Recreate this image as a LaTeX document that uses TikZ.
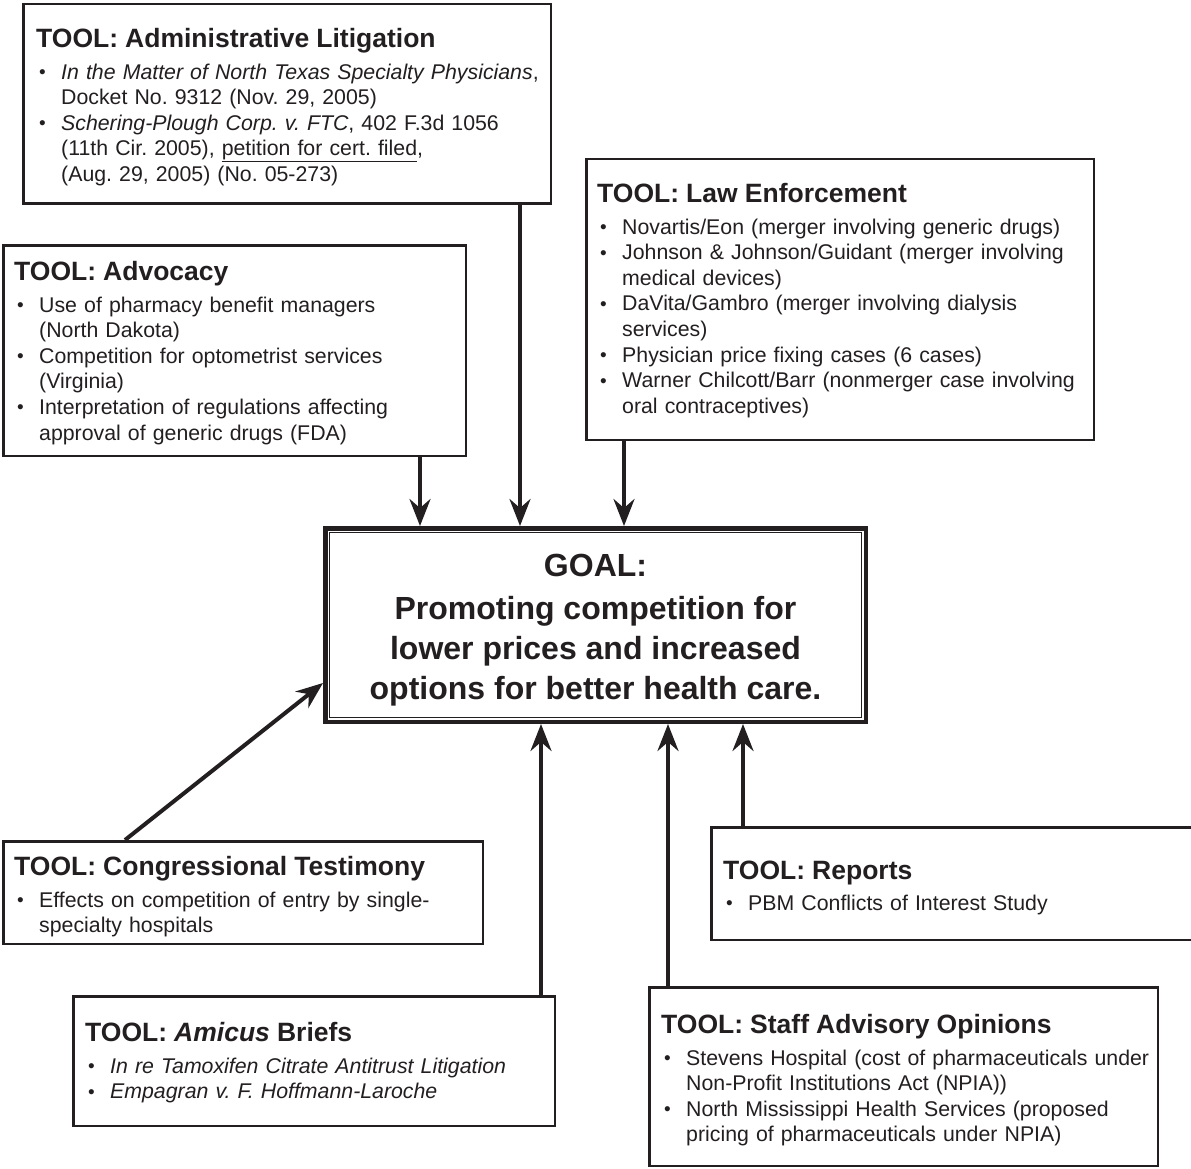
\documentclass[tikz,border=0pt]{standalone}
\usepackage{fontspec}
\setmainfont{Liberation Sans}
\usetikzlibrary{arrows.meta,positioning}
\definecolor{ink}{HTML}{231F20}
\setlength{\parskip}{0pt}
\frenchspacing
\newcommand{\tooltitle}[1]{{\noindent\fontsize{26.5}{30}\selectfont\bfseries #1\par}\vspace{5.5pt}}
\newcommand{\toolitem}[1]{\par\hangindent=25pt\hangafter=1\noindent\makebox[25pt][l]{\hspace{3pt}\raisebox{0.6pt}{\fontsize{19}{19}\selectfont\textbullet}}#1\par}
\begin{document}
\begin{tikzpicture}[x=1pt,y=-1pt,
  toolbox/.style={draw=ink,line width=2.5pt,fill=white,inner sep=0pt},
  tooltext/.style={anchor=north west,inner sep=0pt,text width=560pt,align=left,text=ink,
    font=\fontsize{21.3}{25.6}\selectfont},
  goalbox/.style={draw=ink,line width=4.5pt,fill=white,inner sep=0pt,
    minimum width=540.5pt,minimum height=193.5pt},
  goaltext/.style={anchor=north,inner sep=0pt,align=center,text=ink,
    font=\fontsize{32}{40}\selectfont\bfseries},
  flow/.style={draw=ink,line width=4pt,-{Stealth[length=27pt,width=21pt,inset=9pt]}}]
  \useasboundingbox (0,0) rectangle (1191,1169);

  % frames
  \node[toolbox,minimum width=527.5pt,minimum height=199.5pt] (admin) at (287,104) {};
  \node[toolbox,minimum width=507.5pt,minimum height=280.5pt] (law) at (840,299.5) {};
  \node[toolbox,minimum width=462.5pt,minimum height=210.5pt] (adv) at (234.5,350.5) {};
  \node[toolbox,minimum width=479.5pt,minimum height=102.5pt] (congress) at (243,892.5) {};
  \node[toolbox,minimum width=483.5pt,minimum height=112.5pt] (reports) at (953,883.5) {};
  \node[toolbox,minimum width=481.5pt,minimum height=129.5pt] (amicus) at (314,1061) {};
  \node[toolbox,minimum width=508.5pt,minimum height=178.5pt] (staff) at (903.5,1076.5) {};
  \node[goalbox] (goal) at (595.5,625) {};
  \draw[ink,line width=1.2pt] ([shift={(6.5,6.5)}]goal.north west) rectangle ([shift={(-6.5,-6.5)}]goal.south east);

  % texts
  \node[tooltext] (admintxt) at (36,28.5) {\tooltitle{TOOL: Administrative Litigation}
    \toolitem{\textit{In the Matter of North Texas Specialty Physicians},\newline Docket No. 9312 (Nov. 29, 2005)}
    \toolitem{\textit{Schering-Plough Corp. v. FTC}, 402 F.3d 1056\newline (11th Cir. 2005), \underline{petition for cert. filed},\newline (Aug. 29, 2005) (No. 05-273)}};
  \node[tooltext] (lawtxt) at (597,183.5) {\tooltitle{TOOL: Law Enforcement}
    \toolitem{Novartis/Eon (merger involving generic drugs)}
    \toolitem{Johnson \& Johnson/Guidant (merger involving\newline medical devices)}
    \toolitem{DaVita/Gambro (merger involving dialysis\newline services)}
    \toolitem{Physician price fixing cases (6 cases)}
    \toolitem{Warner Chilcott/Barr (nonmerger case involving\newline oral contraceptives)}};
  \node[tooltext] (advtxt) at (14,261.5) {\tooltitle{TOOL: Advocacy}
    \toolitem{Use of pharmacy benefit managers\newline (North Dakota)}
    \toolitem{Competition for optometrist services\newline (Virginia)}
    \toolitem{Interpretation of regulations affecting\newline approval of generic drugs (FDA)}};
  \node[tooltext] (congresstxt) at (14,856.5) {\tooltitle{TOOL: Congressional Testimony}
    \toolitem{Effects on competition of entry by single-\newline specialty hospitals}};
  \node[tooltext] (reportstxt) at (723,860.5) {\tooltitle{TOOL: Reports}
    \toolitem{PBM Conflicts of Interest Study}};
  \node[tooltext] (amicustxt) at (85,1022.5) {\tooltitle{TOOL: \textit{Amicus} Briefs}
    \toolitem{\textit{In re Tamoxifen Citrate Antitrust Litigation}}
    \toolitem{\textit{Empagran v. F. Hoffmann-Laroche}}};
  \node[tooltext] (stafftxt) at (661,1014.5) {\tooltitle{TOOL: Staff Advisory Opinions}
    \toolitem{Stevens Hospital (cost of pharmaceuticals under\newline Non-Profit Institutions Act (NPIA))}
    \toolitem{North Mississippi Health Services (proposed\newline pricing of pharmaceuticals under NPIA)}};
  \node[goaltext] (goaltxt) at (595.5,553.5) {GOAL:\\[3pt]Promoting competition for\\lower prices and increased\\options for better health care.};

  % arrows
  \draw[flow] (adv.south -| 420,0) -- (goal.north -| 420,0);
  \draw[flow] (admin.south -| 520,0) -- (goal.north -| 520,0);
  \draw[flow] (law.south -| 624,0) -- (goal.north -| 624,0);
  \draw[flow] (congress.north -| 125,0) -- (goal.west |- 0,683);
  \draw[flow] (amicus.north -| 541,0) -- (goal.south -| 541,0);
  \draw[flow] (staff.north -| 668,0) -- (goal.south -| 668,0);
  \draw[flow] (reports.north -| 743,0) -- (goal.south -| 743,0);
\end{tikzpicture}
\end{document}
